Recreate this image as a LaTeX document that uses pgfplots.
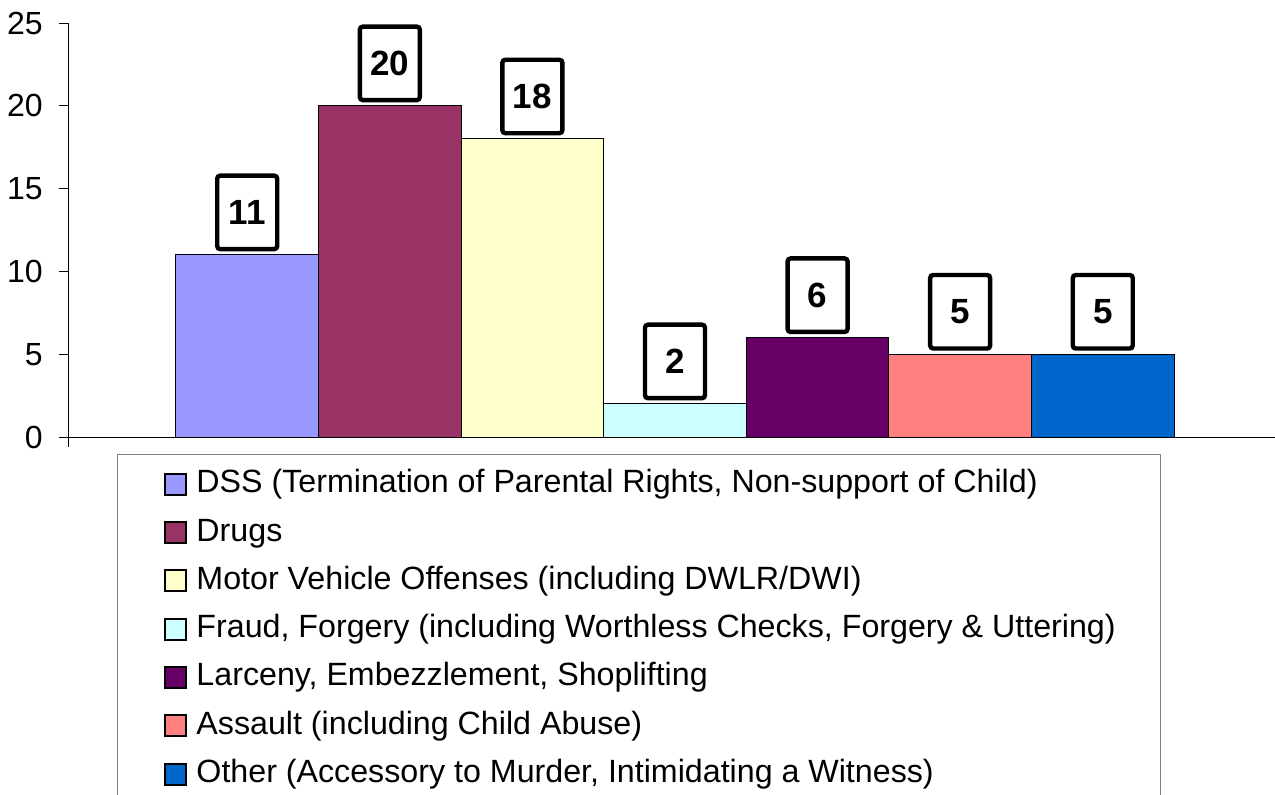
\documentclass[border=0pt]{standalone}
\usepackage{fontspec}
\setmainfont{Liberation Sans}
\usepackage{pgfplots}
\pgfplotsset{compat=1.18}
\definecolor{cDSS}{HTML}{9999FF}
\definecolor{cDrugs}{HTML}{993366}
\definecolor{cMotor}{HTML}{FFFFCC}
\definecolor{cFraud}{HTML}{CCFFFF}
\definecolor{cLarc}{HTML}{660066}
\definecolor{cAssault}{HTML}{FF8080}
\definecolor{cOther}{HTML}{0066CC}
\pgfplotsset{
  mybar/.style={fill=#1, draw=black, line width=0.5pt, bar shift=0pt, bar width=1,
    legend image code/.code={\path[draw=none, fill=none] (0pt,-1pt) rectangle (6pt,1pt); \draw[##1, draw=black, line width=1pt] (6pt,-5.25pt) rectangle (16.5pt,5.25pt);}},
}
\begin{document}
\begin{tikzpicture}
\begin{axis}[
  at={(0pt,0pt)}, anchor=south west,
  scale only axis, width=603pt, height=207pt,
  xmin=-1.25, xmax=7.208, ymin=0, ymax=25,
  axis lines=left, axis line style={-, line width=0.5pt, black},
  ytick={0,5,...,25}, xtick={-1.25}, xticklabels={},
  tick align=outside, major tick length=5pt, tick style={black, line width=0.5pt},
  /pgf/number format/assume math mode=true,
  ticklabel style={font=\fontsize{16}{18}\selectfont},
  yticklabel style={inner xsep=0pt, xshift=-8pt},
  ybar, clip=false,
  nodes near coords={\pgfmathprintnumber{\pgfplotspointmeta}},
  every node near coord/.append style={font=\fontsize{17.5}{20}\selectfont\bfseries, text=black, draw=black, fill=white, line width=2.2pt, rounded corners=1.5pt, minimum width=30pt, minimum height=36.75pt, inner sep=0pt, anchor=south, yshift=1.75pt},
  legend style={at={(axis description cs:0.0398,-0.0411)}, anchor=north west, draw=gray, line width=0.5pt, inner xsep=18pt, inner ysep=7.1pt, row sep=8.65pt, font=\fontsize{16.1}{18}\selectfont, nodes={inner xsep=4.5pt, inner ysep=0pt, text height=12pt, text depth=3.5pt}},
  legend cell align=left,
]
\addplot[mybar=cDSS] coordinates {(0,11)};
\addlegendentry{DSS (Termination of Parental Rights, Non-support of Child)}
\addplot[mybar=cDrugs] coordinates {(1,20)};
\addlegendentry{Drugs}
\addplot[mybar=cMotor] coordinates {(2,18)};
\addlegendentry{Motor Vehicle Offenses (including DWLR/DWI)}
\addplot[mybar=cFraud] coordinates {(3,2)};
\addlegendentry{Fraud, Forgery (including Worthless Checks, Forgery \& Uttering)}
\addplot[mybar=cLarc] coordinates {(4,6)};
\addlegendentry{Larceny, Embezzlement, Shoplifting}
\addplot[mybar=cAssault] coordinates {(5,5)};
\addlegendentry{Assault (including Child Abuse)}
\addplot[mybar=cOther] coordinates {(6,5)};
\addlegendentry{Other (Accessory to Murder, Intimidating a Witness)}
\end{axis}
\pgfresetboundingbox
\useasboundingbox (-34.5pt,-178.5pt) rectangle (603pt,218.5pt);
\end{tikzpicture}
\end{document}
